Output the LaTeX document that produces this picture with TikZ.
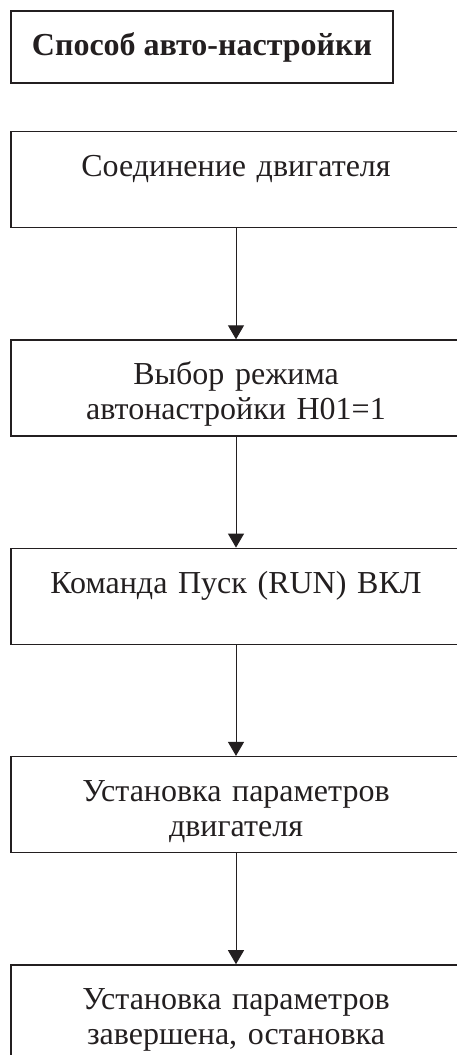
\documentclass[tikz,border=0pt]{standalone}
\usepackage{fontspec}
\setmainfont{Liberation Serif}
\usepackage{xcolor}
\usepackage{tikz}
\usetikzlibrary{positioning,arrows.meta}
\definecolor{ink}{HTML}{231F20}

\begin{document}
\begin{tikzpicture}[x=1pt,y=1pt,>={Triangle[width=16pt,length=14pt]},
  every node/.style={font=\fontsize{32}{35}\selectfont,text=ink},
  box/.style={draw=ink,line width=1.3pt,text width=440pt,align=center,
    inner xsep=5pt,inner ysep=13pt,text height=32pt,text depth=38pt},
  node distance=111pt]
  \useasboundingbox (0,0) rectangle (457,-1055);
  \node[draw=ink,line width=1.3pt,minimum width=382pt,minimum height=72pt,
    font=\fontsize{32}{35}\selectfont\bfseries] (title) at (202,-47) {Способ авто-настройки};
  \node[box,anchor=north] (b1) at (236,-131) {Соединение двигателя};
  \node[box,below=of b1] (b2) {Выбор режима\\автонастройки H01=1};
  \node[box,below=of b2] (b3) {Команда Пуск (RUN) ВКЛ};
  \node[box,below=of b3] (b4) {Установка параметров\\двигателя};
  \node[box,below=of b4] (b5) {Установка параметров\\завершена, остановка};
  \foreach \a/\b in {b1/b2,b2/b3,b3/b4,b4/b5} \draw[->,ink,line width=1pt] (\a) -- (\b);
\end{tikzpicture}
\end{document}
